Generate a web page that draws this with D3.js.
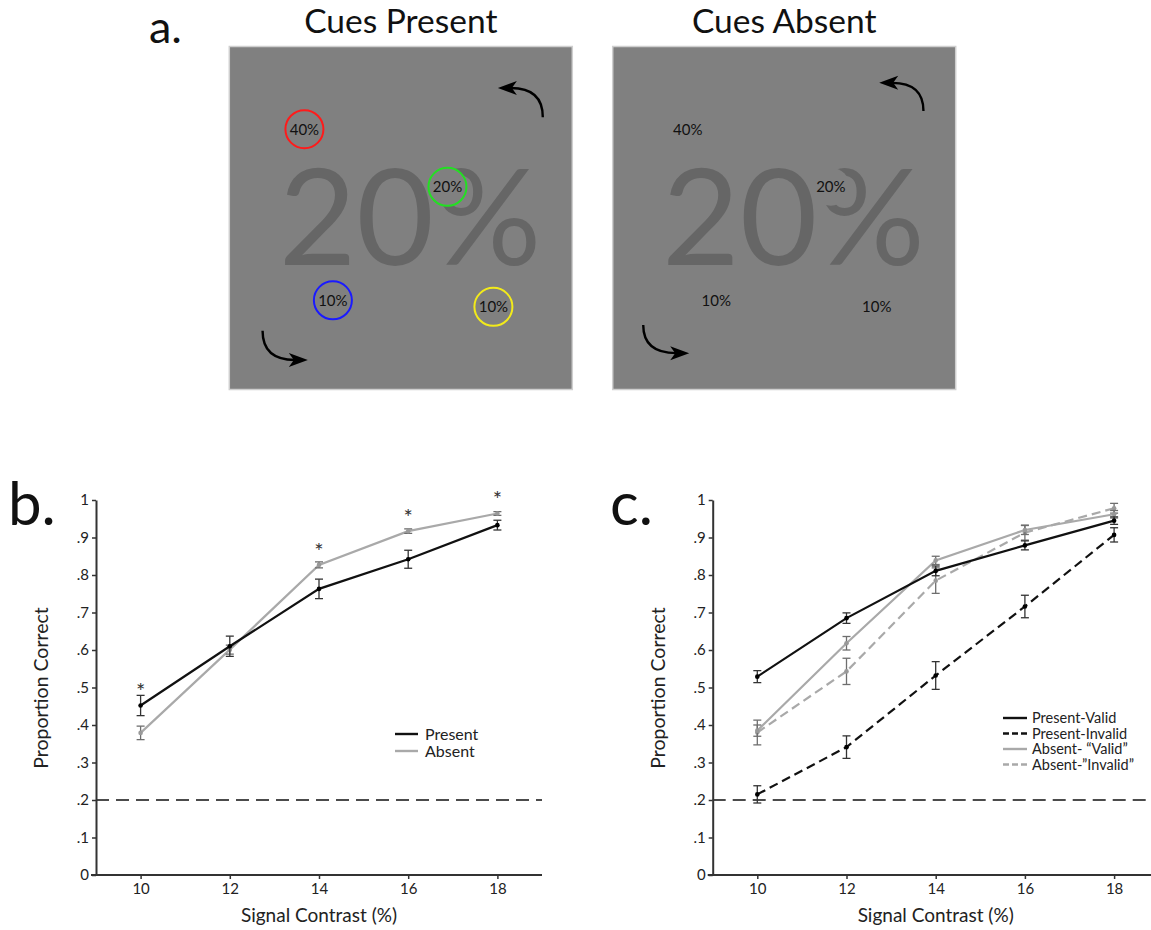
<!DOCTYPE html>
<html>
<head>
<meta charset="utf-8">
<script src="https://cdn.jsdelivr.net/npm/d3@7"></script>
<style>
  html, body { margin: 0; padding: 0; background: #fff; }
  svg { display: block; font-family: Lato, "Open Sans", sans-serif; }
</style>
</head>
<body>
<script>
// ---------- Stimulus (panel a) ----------
const cueLabels = ['40%', '20%', '10%', '10%'];
const cueColors = ['#ff1a1a', '#22e022', '#1a1aff', '#f2ea1a'];
// cue locations in unit-square stimulus coordinates
const cueX = [0.219, 0.636, 0.302, 0.770];
const cueY = [0.241, 0.409, 0.740, 0.759];
const bigProbability = '20%';

// ---------- Behavioural data (panels b, c) ----------
const contrast = [10, 12, 14, 16, 18];
const xTicks = [10, 12, 14, 16, 18];
const yTicks = [0, 0.1, 0.2, 0.3, 0.4, 0.5, 0.6, 0.7, 0.8, 0.9, 1];
const chance = 0.2;

// b: cues present vs absent
const presentMean = [0.452, 0.610, 0.763, 0.842, 0.933];
const presentErr  = [0.027, 0.027, 0.026, 0.024, 0.013];
const absentMean  = [0.379, 0.601, 0.827, 0.917, 0.964];
const absentErr   = [0.018, 0.012, 0.008, 0.006, 0.005];
const sigContrasts = [10, 14, 16, 18];

// c: split by cue validity
const presValidMean   = [0.529, 0.685, 0.811, 0.879, 0.945];
const presValidErr    = [0.016, 0.014, 0.013, 0.012, 0.010];
const presInvalidMean = [0.215, 0.341, 0.532, 0.716, 0.907];
const presInvalidErr  = [0.023, 0.030, 0.037, 0.030, 0.019];
const absValidMean    = [0.385, 0.618, 0.839, 0.920, 0.962];
const absValidErr     = [0.015, 0.018, 0.011, 0.012, 0.010];
const absInvalidMean  = [0.380, 0.543, 0.785, 0.913, 0.978];
const absInvalidErr   = [0.033, 0.035, 0.034, 0.020, 0.013];

const W = 1151, H = 930;
const svg = d3.select('body').append('svg').attr('width', W).attr('height', H);

// ---------- panel a ----------
svg.append('text').attr('x', 149).attr('y', 43)
  .attr('font-size', 45).attr('fill', '#111').text('a.');

const SQ = 343;
const stimuli = [
  { title: 'Cues Present', x0: 229.3, rings: true,
    arrows: [{ sx: 0.914, sy: 0.206, tx: 0.783, ty: 0.121 },
             { sx: 0.097, sy: 0.829, tx: 0.229, ty: 0.914 }] },
  { title: 'Cues Absent', x0: 612.7, rings: false,
    arrows: [{ sx: 0.906, sy: 0.188, tx: 0.777, ty: 0.106 },
             { sx: 0.089, sy: 0.812, tx: 0.223, ty: 0.894 }] }
];

stimuli.forEach(s => {
  const sx = d3.scaleLinear([0, 1], [s.x0, s.x0 + SQ]);
  const sy = d3.scaleLinear([0, 1], [46.5, 46.5 + SQ]);
  const g = svg.append('g');

  g.append('text').attr('x', sx(0.5)).attr('y', 33)
    .attr('text-anchor', 'middle').attr('font-size', 33.5).attr('fill', '#111')
    .text(s.title);

  g.append('rect').attr('x', sx(0)).attr('y', sy(0))
    .attr('width', SQ).attr('height', SQ)
    .attr('fill', '#808080').attr('stroke', '#cfcfcf').attr('stroke-width', 1.5);

  g.append('text').attr('x', sx(0.527)).attr('y', sy(0.637))
    .attr('text-anchor', 'middle').attr('font-size', 134).attr('fill', '#666666')
    .text(bigProbability);

  const cues = g.selectAll('g.cue').data(cueLabels).join('g').attr('class', 'cue')
    .attr('transform', (d, i) => `translate(${sx(cueX[i])},${sy(cueY[i])})`);
  cues.append('circle').attr('r', 19)
    .attr('fill', '#808080')
    .attr('stroke', (d, i) => s.rings ? cueColors[i] : 'none')
    .attr('stroke-width', 2);
  cues.append('text').attr('text-anchor', 'middle').attr('dy', '0.36em')
    .attr('font-size', 15).attr('fill', '#111').text(d => d);

  s.arrows.forEach(a => {
    const S = [sx(a.sx), sy(a.sy)], T = [sx(a.tx), sy(a.ty)];
    const dir = Math.sign(T[0] - S[0]);
    const E = [T[0] - dir * 13, T[1]];
    g.append('path')
      .attr('d', `M${S[0]},${S[1]} Q${S[0]},${T[1]} ${E[0]},${E[1]}`)
      .attr('fill', 'none').attr('stroke', '#000').attr('stroke-width', 2.4);
    const b = T[0] - dir * 19;
    g.append('path')
      .attr('d', `M${T[0]},${T[1]} L${b},${T[1] - 7} L${T[0] - dir * 14},${T[1]} L${b},${T[1] + 7} Z`)
      .attr('fill', '#000');
  });
});

// ---------- panels b, c ----------
const yTickFmt = v => v === 0 ? '0' : v === 1 ? '1' : '.' + Math.round(v * 10);

function drawChart(opt) {
  const x = d3.scaleLinear([9, 19], [opt.left, opt.left + 446]);
  const y = d3.scaleLinear([0, 1], [875, 500]);
  const g = svg.append('g');

  g.append('text').attr('x', opt.labelX).attr('y', 525)
    .attr('font-size', 60).attr('fill', '#111').text(opt.letter);

  // chance level
  g.append('line').attr('x1', x(9)).attr('x2', x(19))
    .attr('y1', y(chance)).attr('y2', y(chance))
    .attr('stroke', '#111').attr('stroke-width', 1.7).attr('stroke-dasharray', '13,7');

  const ax = g.append('g').attr('transform', `translate(0,${y(0)})`)
    .call(d3.axisBottom(x).tickValues(xTicks).tickSize(4).tickSizeOuter(0).tickPadding(4));
  const ay = g.append('g').attr('transform', `translate(${x(9)},0)`)
    .call(d3.axisLeft(y).tickValues(yTicks).tickFormat(yTickFmt).tickSize(4).tickSizeOuter(0).tickPadding(3));
  [ax, ay].forEach(a => {
    a.select('.domain').attr('stroke', '#333').attr('stroke-width', 2);
    a.selectAll('.tick line').attr('stroke', '#333').attr('stroke-width', 1.5);
    a.selectAll('.tick text').attr('font-size', 15).attr('fill', '#222')
      .attr('font-family', 'Lato, "Open Sans", sans-serif');
  });
  ax.select('.domain').attr('d', `M${x(9) - 5},0H${x(19)}`);

  g.append('text').attr('x', (x(9) + x(19)) / 2).attr('y', 922)
    .attr('text-anchor', 'middle').attr('font-size', 19).attr('fill', '#222')
    .text('Signal Contrast (%)');
  g.append('text').attr('transform', `translate(${opt.left - 48},688) rotate(-90)`)
    .attr('text-anchor', 'middle').attr('font-size', 19.5).attr('fill', '#222')
    .text('Proportion Correct');

  const line = d3.line().x((d, i) => x(contrast[i])).y(d => y(d));

  opt.series.forEach(s => {
    g.append('path').datum(s.mean).attr('d', line)
      .attr('fill', 'none').attr('stroke', s.color).attr('stroke-width', 2.2)
      .attr('stroke-dasharray', s.dash || null);
    const eb = g.append('g').attr('stroke', s.errColor).attr('stroke-width', 1.3);
    s.mean.forEach((m, i) => {
      const cx = x(contrast[i]), lo = y(m - s.err[i]), hi = y(m + s.err[i]);
      eb.append('line').attr('x1', cx).attr('x2', cx).attr('y1', lo).attr('y2', hi);
      eb.append('line').attr('x1', cx - 4).attr('x2', cx + 4).attr('y1', lo).attr('y2', lo);
      eb.append('line').attr('x1', cx - 4).attr('x2', cx + 4).attr('y1', hi).attr('y2', hi);
    });
    g.selectAll(null).data(s.mean).join('circle')
      .attr('cx', (d, i) => x(contrast[i])).attr('cy', d => y(d))
      .attr('r', 2.3).attr('fill', s.dot);
  });

  (opt.stars || []).forEach(c => {
    const i = contrast.indexOf(c);
    const top = d3.max(opt.series, s => s.mean[i]);
    g.append('text').attr('x', x(c)).attr('y', y(top) - 20)
      .attr('text-anchor', 'middle').attr('dy', '0.62em')
      .attr('font-size', 22).attr('fill', '#333').text('*');
  });

  const lg = g.append('g');
  opt.legend.items.forEach((it, k) => {
    const ly = opt.legend.y + k * opt.legend.step;
    lg.append('line').attr('x1', opt.legend.x).attr('x2', opt.legend.x + opt.legend.len)
      .attr('y1', ly).attr('y2', ly)
      .attr('stroke', it.color).attr('stroke-width', 2.4)
      .attr('stroke-dasharray', it.dash || null);
    lg.append('text').attr('x', opt.legend.x + opt.legend.len + opt.legend.gap).attr('y', ly)
      .attr('dy', '0.35em').attr('font-size', opt.legend.size).attr('fill', '#222')
      .text(it.label);
  });
}

const BLACK = '#111', GRAY = '#a9a9a9';

drawChart({
  letter: 'b.', labelX: 8, left: 96,
  series: [
    { mean: absentMean, err: absentErr, color: GRAY, errColor: '#6e6e6e', dot: '#999' },
    { mean: presentMean, err: presentErr, color: BLACK, errColor: '#333', dot: '#000' }
  ],
  stars: sigContrasts,
  legend: { x: 395, y: 734, step: 17, len: 23, gap: 7, size: 16,
    items: [{ label: 'Present', color: BLACK }, { label: 'Absent', color: GRAY }] }
});

drawChart({
  letter: 'c.', labelX: 610, left: 712.7,
  series: [
    { mean: absInvalidMean, err: absInvalidErr, color: GRAY, dash: '9,5', errColor: '#6e6e6e', dot: '#999' },
    { mean: absValidMean, err: absValidErr, color: GRAY, errColor: '#6e6e6e', dot: '#999' },
    { mean: presInvalidMean, err: presInvalidErr, color: BLACK, dash: '9,5', errColor: '#333', dot: '#000' },
    { mean: presValidMean, err: presValidErr, color: BLACK, errColor: '#333', dot: '#000' }
  ],
  legend: { x: 1003, y: 718, step: 15.5, len: 24, gap: 5, size: 14.5,
    items: [
      { label: 'Present-Valid', color: BLACK },
      { label: 'Present-Invalid', color: BLACK, dash: '6,3' },
      { label: 'Absent- “Valid”', color: GRAY },
      { label: 'Absent-”Invalid”', color: GRAY, dash: '6,3' }
    ] }
});
</script>
</body>
</html>
